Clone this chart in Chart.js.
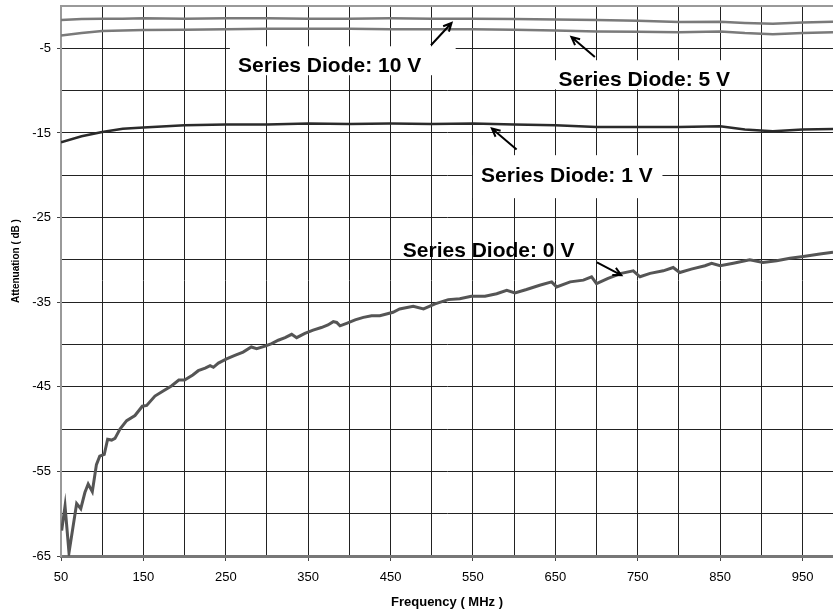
<!DOCTYPE html>
<html>
<head>
<meta charset="utf-8" />
<script src="https://cdn.jsdelivr.net/npm/chart.js@4.4.1/dist/chart.umd.min.js"></script>
<style>
  html, body { margin: 0; padding: 0; background: #fff; }
  canvas { display: block; }
</style>
</head>
<body>
<canvas id="c" width="833" height="614"></canvas>
<script>
// ticks
const xGrid = [50, 100, 150, 200, 250, 300, 350, 400, 450, 500, 550, 600, 650, 700, 750, 800, 850, 900, 950];
const xLabels = [50, 150, 250, 350, 450, 550, 650, 750, 850, 950];
const yGrid = [-65, -60, -55, -50, -45, -40, -35, -30, -25, -20, -15, -10, -5, 0];
const yLabels = [-65, -55, -45, -35, -25, -15, -5];

// Series Diode: 0 V  (MHz / dB)
const freq0V = [50.8, 54.9, 59.7, 69, 74, 79, 83, 88, 93, 97, 102.5, 106.6, 111.5, 115.5, 121.6, 129.7, 139.8, 148.7, 154, 164,
  174, 184, 193, 200, 210, 216.6, 225, 231, 235, 241, 251, 261, 271, 281, 287.5, 297.6, 305.7, 313.7, 322, 330,
  336, 346, 356, 366, 374, 380.5, 384.6, 388.6, 396.7, 407, 417, 427, 437, 445, 453, 461, 477.5, 490, 504, 520,
  534, 548, 564.6, 578.8, 591, 601, 615, 631, 645.5, 651.6, 668, 684, 694, 700, 714, 730, 744.6, 752.7, 765, 781,
  793, 801, 815, 831.6, 839.7, 850, 866, 886, 902, 918.6, 934.7, 951, 971, 987];
const att0V = [-62.0, -59.1, -64.6, -58.8, -59.4, -57.5, -56.5, -57.4, -54.2, -53.2, -53.0, -51.2, -51.3, -51.1, -50.0, -49.0, -48.4, -47.3, -47.2, -46.1,
  -45.5, -44.9, -44.2, -44.2, -43.6, -43.1, -42.8, -42.5, -42.7, -42.2, -41.7, -41.3, -40.9, -40.3, -40.5, -40.2, -39.9, -39.5, -39.2, -38.8,
  -39.2, -38.7, -38.3, -38.0, -37.7, -37.3, -37.4, -37.8, -37.5, -37.1, -36.8, -36.6, -36.6, -36.4, -36.2, -35.8, -35.5, -35.8, -35.2, -34.7,
  -34.6, -34.3, -34.3, -34.0, -33.6, -33.9, -33.5, -33.0, -32.6, -33.2, -32.6, -32.4, -32.0, -32.8, -32.2, -31.6, -31.3, -32.0, -31.6, -31.3,
  -30.9, -31.5, -31.1, -30.7, -30.4, -30.7, -30.4, -30.0, -30.3, -30.1, -29.8, -29.6, -29.3, -29.1];

// 1 V, 5 V, 10 V share one frequency grid
const freqHi = [50, 75, 100, 125, 150, 200, 250, 300, 350, 400, 450, 500, 550, 600, 650, 700, 750, 800, 850, 880, 914, 950, 987];
const att1V = [-16.1, -15.4, -14.9, -14.5, -14.35, -14.1, -14.0, -14.0, -13.9, -13.95, -13.9, -13.95, -13.9, -14.0, -14.1, -14.3, -14.3, -14.3, -14.2, -14.6, -14.8, -14.6, -14.55];
const att5V = [-3.5, -3.2, -2.95, -2.9, -2.85, -2.8, -2.75, -2.7, -2.7, -2.7, -2.75, -2.75, -2.75, -2.8, -2.9, -3.0, -3.05, -3.1, -3.0, -3.2, -3.35, -3.2, -3.1];
const att10V = [-1.65, -1.55, -1.5, -1.5, -1.45, -1.5, -1.45, -1.45, -1.5, -1.5, -1.45, -1.5, -1.5, -1.55, -1.6, -1.65, -1.75, -1.9, -1.85, -2.0, -2.1, -1.95, -1.85];

const FONT = "'Liberation Sans', Arial, sans-serif";

function pts(xs, ys) {
  return xs.map((x, i) => ({ x, y: ys[i] }));
}

// callouts, placed in data units (MHz, dB)
const notes = [
  { text: 'Series Diode: 10 V', at: [376, -7.1], box: [255, -4.76, 529, -8.18], arrow: [499, -4.64, 524, -2.01] },
  { text: 'Series Diode: 5 V', at: [758, -8.77], box: [643, -6.41, 874, -9.84], arrow: [698, -6.02, 669.5, -3.66] },
  { text: 'Series Diode: 1 V', at: [664, -20.1], box: [550, -17.63, 780, -22.71], arrow: [603, -16.96, 573, -14.48] },
  { text: 'Series Diode: 0 V', at: [569, -28.97], box: null, arrow: [700.5, -30.31, 730, -31.81] },
];

const callouts = {
  id: 'callouts',
  beforeDatasetsDraw(chart) {
    const { ctx, scales: { x, y } } = chart;
    ctx.save();
    ctx.fillStyle = '#fff';
    for (const n of notes) {
      if (!n.box) continue;
      const x0 = x.getPixelForValue(n.box[0]), x1 = x.getPixelForValue(n.box[2]);
      const y0 = y.getPixelForValue(n.box[1]), y1 = y.getPixelForValue(n.box[3]);
      ctx.fillRect(x0, y0, x1 - x0, y1 - y0);
    }
    ctx.restore();
  },
  afterDatasetsDraw(chart) {
    const { ctx, scales: { x, y } } = chart;
    ctx.save();
    ctx.fillStyle = '#000';
    ctx.font = 'bold 21px ' + FONT;
    ctx.textAlign = 'center';
    ctx.textBaseline = 'middle';
    for (const n of notes) {
      ctx.fillText(n.text, x.getPixelForValue(n.at[0]), y.getPixelForValue(n.at[1]));
    }
    ctx.strokeStyle = '#000';
    ctx.lineWidth = 2;
    for (const n of notes) {
      const ax = x.getPixelForValue(n.arrow[0]), ay = y.getPixelForValue(n.arrow[1]);
      const bx = x.getPixelForValue(n.arrow[2]), by = y.getPixelForValue(n.arrow[3]);
      const ang = Math.atan2(by - ay, bx - ax);
      ctx.beginPath();
      ctx.moveTo(ax, ay);
      ctx.lineTo(bx, by);
      ctx.moveTo(bx - 9 * Math.cos(ang - 0.45), by - 9 * Math.sin(ang - 0.45));
      ctx.lineTo(bx, by);
      ctx.lineTo(bx - 9 * Math.cos(ang + 0.45), by - 9 * Math.sin(ang + 0.45));
      ctx.stroke();
    }
    ctx.restore();
  },
  afterDraw(chart) {
    // y title sits a bit above the middle in the original
    const { ctx } = chart;
    ctx.save();
    ctx.translate(16, 261);
    ctx.rotate(-Math.PI / 2);
    ctx.font = 'bold 10px ' + FONT;
    ctx.fillStyle = '#000';
    ctx.textAlign = 'center';
    ctx.textBaseline = 'middle';
    ctx.fillText('Attenuation ( dB )', 0, 0);
    ctx.restore();
  }
};

new Chart(document.getElementById('c'), {
  type: 'line',
  data: {
    datasets: [
      { label: 'Series Diode: 0 V', data: pts(freq0V, att0V), borderColor: '#555', borderWidth: 3 },
      { label: 'Series Diode: 1 V', data: pts(freqHi, att1V), borderColor: '#2b2b2b', borderWidth: 2.5 },
      { label: 'Series Diode: 5 V', data: pts(freqHi, att5V), borderColor: '#7a7a7a', borderWidth: 2.5 },
      { label: 'Series Diode: 10 V', data: pts(freqHi, att10V), borderColor: '#7a7a7a', borderWidth: 2.5 },
    ]
  },
  options: {
    responsive: false,
    animation: false,
    layout: { padding: { top: 6, right: 0, bottom: 0, left: 0 } },
    elements: { point: { radius: 0 }, line: { tension: 0, fill: false } },
    plugins: { legend: { display: false }, tooltip: { enabled: false } },
    scales: {
      x: {
        type: 'linear', min: 50, max: 987,
        afterBuildTicks: (s) => { s.ticks = xGrid.map((v) => ({ value: v })); },
        afterFit: (s) => { s.height = 58; s.paddingLeft = 0; s.paddingRight = 0; },
        ticks: {
          autoSkip: false, maxRotation: 0, padding: 9, color: '#000',
          font: { family: FONT, size: 13 },
          callback: (v) => (xLabels.includes(v) ? String(v) : '')
        },
        grid: {
          color: '#222', lineWidth: 1, tickLength: 5,
          tickColor: (c) => (c.tick && xLabels.includes(c.tick.value) ? '#444' : 'rgba(0,0,0,0)')
        },
        border: { color: '#777', width: 3 },
        title: {
          display: true, text: 'Frequency ( MHz )', color: '#000',
          font: { family: FONT, size: 13, weight: 'bold' }, padding: { top: 0, bottom: 4 }
        }
      },
      y: {
        min: -65, max: 0,
        afterBuildTicks: (s) => { s.ticks = yGrid.map((v) => ({ value: v })); },
        afterFit: (s) => { s.width = 61; s.paddingTop = 0; s.paddingBottom = 0; },
        ticks: {
          padding: 6, color: '#000',
          font: { family: FONT, size: 13 },
          callback: (v) => (yLabels.includes(v) ? String(v) : '')
        },
        grid: {
          color: (c) => (c.tick && c.tick.value === 0 ? '#999' : '#222'),
          lineWidth: (c) => (c.tick && c.tick.value === 0 ? 2 : 1),
          tickLength: 4,
          tickColor: (c) => (c.tick && yLabels.includes(c.tick.value) ? '#444' : 'rgba(0,0,0,0)')
        },
        border: { color: '#999', width: 2 }
      }
    }
  },
  plugins: [callouts]
});
</script>
</body>
</html>
